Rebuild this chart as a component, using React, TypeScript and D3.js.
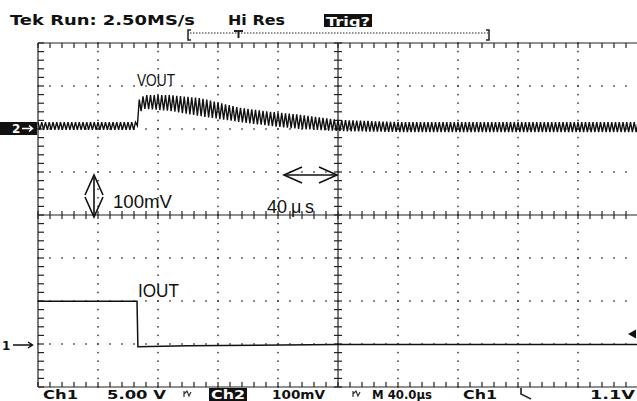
import React from 'react';
import * as d3 from 'd3';

// ---- data ----
// VOUT (CH2, mV relative to the "2→" marker): ripple envelope
const vOutTime = [0, 66, 67, 71, 88, 108, 135, 155, 175, 201, 241, 400];
const vOutHigh = [16, 16, 67, 79, 79, 72, 49, 40, 33, 21, 16, 16];
const vOutLow = [-2, -2, 37, 47, 42, 30, 16, 7, 0, -5, -7, -7];
const rippleHalfPeriodUs = 1.25;
// IOUT (CH1, volts relative to the "1→" marker)
const iOutTime = [0, 66, 66.6, 100, 200, 400];
const iOutLevel = [5.1, 5.1, -0.2, -0.1, 0.05, 0.05];

const headerLabels = ['Tek Run: 2.50MS/s', 'Hi Res', 'Trig?'];
const footerLabels = ['Ch1', '5.00 V', 'Ch2', '100mV', 'M 40.0\u00B5s', 'Ch1', '1.1V'];

const W = 637;
const H = 401;

export default function App() {
  const x = d3.scaleLinear().domain([0, 400]).range([38, 638]);
  const yCh2 = d3.scaleLinear().domain([0, 100]).range([129, 86]);
  const yCh1 = d3.scaleLinear().domain([0, 5]).range([345, 302]);
  const gx = d3.scaleLinear().domain([0, 10]).range([38, 638]);
  const gy = d3.scaleLinear().domain([0, 8]).range([43, 387]);
  const highAt = d3.scaleLinear().domain(vOutTime).range(vOutHigh);
  const lowAt = d3.scaleLinear().domain(vOutTime).range(vOutLow);

  const ripplePts: [number, number][] = d3
    .range(0, 400.01, rippleHalfPeriodUs)
    .map((t, i) => [x(t), yCh2(i % 2 === 0 ? highAt(t) : lowAt(t))]);
  const line = d3.line();
  const vPath = line(ripplePts) || '';
  const iPath =
    line(iOutTime.map((t, i) => [x(t), yCh1(iOutLevel[i])] as [number, number])) || '';

  const dots: JSX.Element[] = [];
  [1, 2, 3, 5, 6, 7].forEach((k) => {
    d3.range(0, 51).forEach((j) => {
      dots.push(
        <rect key={`h${k}-${j}`} x={gx(j / 5) - 0.75} y={gy(k) - 0.75} width={1.5} height={1.5} fill="#333" />
      );
    });
  });
  [1, 2, 3, 4, 6, 7, 8, 9].forEach((k) => {
    d3.range(0, 41).forEach((j) => {
      dots.push(
        <rect key={`v${k}-${j}`} x={gx(k) - 0.75} y={gy(j / 5) - 0.75} width={1.5} height={1.5} fill="#333" />
      );
    });
  });

  const ticks: JSX.Element[] = [];
  d3.range(0, 51).forEach((j) => {
    const xx = gx(j / 5);
    ticks.push(<line key={`ct${j}`} x1={xx} x2={xx} y1={gy(4) - 4} y2={gy(4) + 4} />);
    ticks.push(<line key={`tt${j}`} x1={xx} x2={xx} y1={gy(0)} y2={gy(0) + 5} />);
    ticks.push(<line key={`bt${j}`} x1={xx} x2={xx} y1={gy(8)} y2={gy(8) - 5} />);
  });
  d3.range(0, 41).forEach((j) => {
    const yy = gy(j / 5);
    ticks.push(<line key={`cv${j}`} x1={gx(5) - 4} x2={gx(5) + 4} y1={yy} y2={yy} />);
    ticks.push(<line key={`lv${j}`} x1={gx(0)} x2={gx(0) + 6} y1={yy} y2={yy} />);
  });

  const tekFont = { fontFamily: 'DejaVu Sans', fontWeight: 700 as const };
  const annFont = { fontFamily: 'Liberation Sans, Arial, sans-serif' };

  return (
    <svg
      width={W}
      height={H}
      viewBox={`0 0 ${W} ${H}`}
      style={{ position: 'absolute', left: 0, top: 0, background: '#fff' }}
    >
      <rect x={0} y={0} width={W} height={H} fill="#fff" />
      {/* header */}
      <text x={10} y={25} fontSize={14} textLength={185} lengthAdjust="spacingAndGlyphs" fill="#111" {...tekFont}>
        {headerLabels[0]}
      </text>
      <text x={228} y={25} fontSize={14} textLength={57} lengthAdjust="spacingAndGlyphs" fill="#111" {...tekFont}>
        {headerLabels[1]}
      </text>
      <rect x={324} y={14} width={48} height={13} fill="#111" />
      <text x={326} y={25.5} fontSize={12} textLength={44} lengthAdjust="spacingAndGlyphs" fill="#fff" {...tekFont}>
        {headerLabels[2]}
      </text>
      {/* record bracket */}
      <g stroke="#222" fill="none" strokeWidth={1.5}>
        <path d="M191,30 L188,30 L188,40 L191,40" />
        <path d="M486,30 L489,30 L489,40 L486,40" />
        <line x1={190} x2={488} y1={33} y2={33} strokeDasharray="1.5,1.5" strokeWidth={1} />
        <path d="M234,31 L243,31 M238.5,31 L238.5,38" strokeWidth={2} />
      </g>

      {/* graticule */}
      {dots}
      <g stroke="#222" strokeWidth={1.2}>
        {ticks}
        <line x1={gx(0)} x2={W} y1={gy(0)} y2={gy(0)} />
        <line x1={gx(0)} x2={W} y1={gy(8)} y2={gy(8)} />
        <line x1={gx(0)} x2={gx(0)} y1={gy(0)} y2={gy(8)} />
        <line x1={gx(0)} x2={W} y1={gy(4)} y2={gy(4)} />
        <line x1={gx(5)} x2={gx(5)} y1={gy(0)} y2={gy(8)} />
      </g>

      {/* traces */}
      <path d={vPath} fill="none" stroke="#111" strokeWidth={1.4} strokeLinejoin="miter" />
      <path d={iPath} fill="none" stroke="#111" strokeWidth={1.5} />

      {/* channel markers */}
      <rect x={0} y={122} width={37} height={13} fill="#111" />
      <text x={12} y={133} fontSize={12} fill="#fff" {...tekFont}>2</text>
      <path d="M22,128.5 L32,128.5 M29,125.5 L32.5,128.5 L29,131.5" stroke="#fff" strokeWidth={1.5} fill="none" />
      <text x={2} y={350} fontSize={12} fill="#111" {...tekFont}>1</text>
      <path d="M13,345 L32,345 M28,342 L32.5,345 L28,348" stroke="#111" strokeWidth={1.5} fill="none" />
      <path d="M628,334 L636,329.5 L636,338.5 Z" fill="#111" />

      {/* annotations */}
      <text x={137} y={86} fontSize={17} textLength={38} lengthAdjust="spacingAndGlyphs" fill="#111" {...annFont}>VOUT</text>
      <text x={138} y={297} fontSize={18} textLength={41} lengthAdjust="spacingAndGlyphs" fill="#111" {...annFont}>IOUT</text>
      <text x={113} y={208} fontSize={18} textLength={59} lengthAdjust="spacingAndGlyphs" fill="#111" {...annFont}>100mV</text>
      <text y={213} fontSize={18} fill="#111" {...annFont}>
        <tspan x={267}>40</tspan>
        <tspan x={291}>μ</tspan>
        <tspan x={305}>s</tspan>
      </text>
      <g stroke="#111" strokeWidth={1.6} fill="none">
        <path d="M94,175 L94,217" />
        <path d="M85,195 L94,175 L103,195" />
        <path d="M85,197 L94,217 L103,197" />
        <path d="M284,175 L337,175" />
        <path d="M302,167 L284,175 L302,183" />
        <path d="M319,167 L337,175 L319,183" />
      </g>

      {/* footer */}
      <g fill="#111" {...tekFont} fontSize={13}>
        <text x={43} y={398.5} textLength={35} lengthAdjust="spacingAndGlyphs">{footerLabels[0]}</text>
        <text x={107} y={398.5} textLength={59} lengthAdjust="spacingAndGlyphs">{footerLabels[1]}</text>
        <rect x={209} y={388} width={38} height={13} fill="#111" />
        <text x={211} y={398.5} textLength={34} lengthAdjust="spacingAndGlyphs" fill="#fff">{footerLabels[2]}</text>
        <text x={272} y={398.5} textLength={53} lengthAdjust="spacingAndGlyphs">{footerLabels[3]}</text>
        <text x={372} y={398.5} textLength={60} lengthAdjust="spacingAndGlyphs">{footerLabels[4]}</text>
        <text x={463} y={398.5} textLength={34} lengthAdjust="spacingAndGlyphs">{footerLabels[5]}</text>
        <text x={590} y={398.5} textLength={45} lengthAdjust="spacingAndGlyphs">{footerLabels[6]}</text>
      </g>
      <g stroke="#333" strokeWidth={1.2} fill="none">
        <path d="M184,391 L184,397 M184,394 L187,391 L189,396 L191,392" />
        <path d="M353,391 L353,397 M353,394 L356,391 L358,396 L360,392" />
        <path d="M521,388 L521,394 L531,399" strokeWidth={1.8} />
      </g>
    </svg>
  );
}
